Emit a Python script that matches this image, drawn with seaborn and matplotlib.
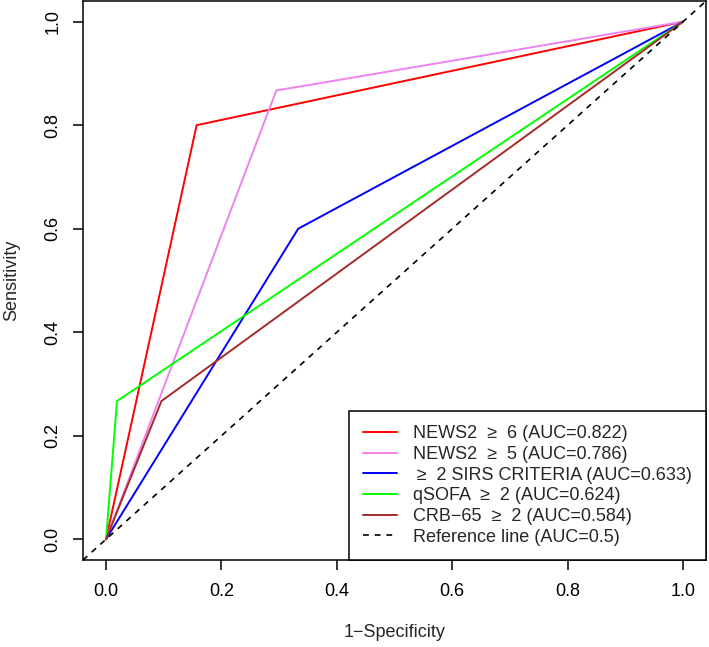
import matplotlib
matplotlib.use("Agg")
import matplotlib.pyplot as plt
import seaborn as sns
import pandas as pd

labels = ["NEWS2  \u2265  6 (AUC=0.822)", "NEWS2  \u2265  5 (AUC=0.786)",
          "\u2009\u2265  2 SIRS CRITERIA (AUC=0.633)", "qSOFA  \u2265  2 (AUC=0.624)",
          "CRB\u221265  \u2265  2 (AUC=0.584)"]
colors = ["#FF0000", "#EE82EE", "#0000FF", "#00FF00", "#A52A2A"]
fpr = [[0.0, 0.157, 1.0], [0.0, 0.295, 1.0], [0.0, 0.333, 1.0],
       [0.0, 0.019, 1.0], [0.0, 0.096, 1.0]]
tpr = [[0.0, 0.800, 1.0], [0.0, 0.867, 1.0], [0.0, 0.600, 1.0],
       [0.0, 0.267, 1.0], [0.0, 0.267, 1.0]]
ref_label = "Reference line (AUC=0.5)"
ticks = [0.0, 0.2, 0.4, 0.6, 0.8, 1.0]

sns.set_theme(style="ticks")
plt.rcParams['font.family'] = ['Liberation Sans', 'DejaVu Sans']

fig = plt.figure(figsize=(7.09, 6.47), dpi=100)
ax = fig.add_axes([0.117, 0.1345, 0.879, 0.864])

for lab, c, xs, ys in zip(labels, colors, fpr, tpr):
    df = pd.DataFrame({"x": xs, "y": ys})
    sns.lineplot(data=df, x="x", y="y", ax=ax, color=c, lw=1.4, sort=False,
                 estimator=None, label=lab)
ax.axline((0, 0), (1, 1), color="black", lw=1.2, ls=(0, (3.5, 3.5)), label=ref_label)

ax.set_xlim(-0.04, 1.04)
ax.set_ylim(-0.04, 1.04)
ax.set_xticks(ticks)
ax.set_yticks(ticks)
ax.set_xticklabels([f"{t:.1f}" for t in ticks], fontsize=13)
ax.set_yticklabels([f"{t:.1f}" for t in ticks], fontsize=13, rotation=90, va="center")
ax.tick_params(direction="out", length=7.5, width=1.1, colors="black")
ax.tick_params(axis="x", pad=9)
ax.tick_params(axis="y", pad=8)
for s in ax.spines.values():
    s.set_visible(True)
    s.set_color("black")
    s.set_linewidth(1.1)
ax.set_xlabel("1\u2212Specificity", fontsize=13, va="center")
ax.set_ylabel("Sensitivity", fontsize=13, va="center")
ax.xaxis.set_label_coords(0.5, -(633 - 560) / 559)
ax.yaxis.set_label_coords(-(83 - 12) / 623, 0.5)

leg = ax.legend(loc="lower right", fontsize=13, frameon=True, fancybox=False,
                edgecolor="black", framealpha=1, borderaxespad=0,
                handlelength=1.85, handletextpad=0.9, labelspacing=0.2,
                borderpad=0.8)
leg.get_frame().set_linewidth(1.1)

fig.savefig("out.png", dpi=100)
